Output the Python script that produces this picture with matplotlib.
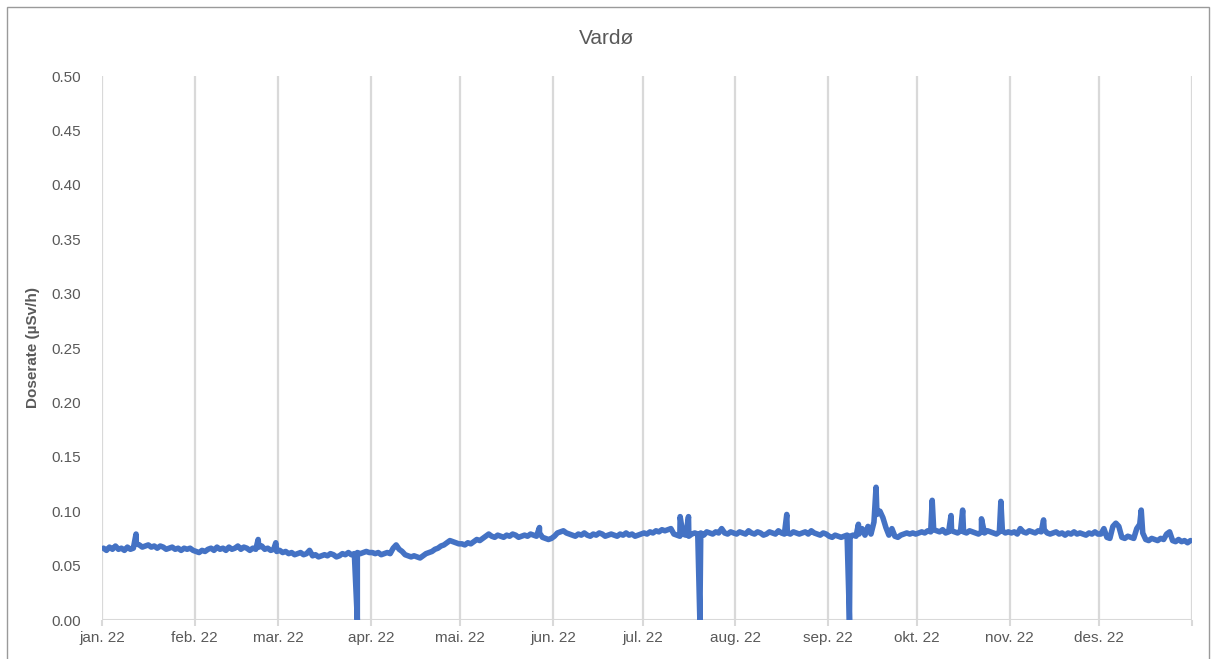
import numpy as np
import pandas as pd
import matplotlib
matplotlib.use("Agg")
import matplotlib.pyplot as plt
import matplotlib.dates as mdates
from matplotlib.ticker import FuncFormatter, FormatStrFormatter
from matplotlib.patches import Rectangle

plt.rcParams['font.family'] = ['Liberation Sans', 'DejaVu Sans']

title = "Vardø"
ylabel = "Doserate (µSv/h)"
month_labels = ["jan.", "feb.", "mar.", "apr.", "mai.", "jun.",
                "jul.", "aug.", "sep.", "okt.", "nov.", "des."]

# daily dose rate values (µSv/h)
jan = [0.066, 0.064, 0.067, 0.065, 0.068, 0.065, 0.066, 0.064, 0.067, 0.065, 0.066,
       0.070, 0.069, 0.067, 0.068, 0.069, 0.067, 0.068, 0.066, 0.068, 0.067, 0.065,
       0.066, 0.067, 0.065, 0.066, 0.064, 0.066, 0.065, 0.066, 0.064]
feb = [0.063, 0.062, 0.064, 0.063, 0.065, 0.066, 0.064, 0.067, 0.065, 0.066, 0.064,
       0.067, 0.065, 0.066, 0.068, 0.065, 0.067, 0.066, 0.064, 0.066, 0.065, 0.067,
       0.068, 0.065, 0.066, 0.064, 0.065, 0.063]
mar = [0.064, 0.062, 0.063, 0.061, 0.062, 0.060, 0.061, 0.062, 0.060, 0.061, 0.064,
       0.059, 0.060, 0.058, 0.059, 0.060, 0.059, 0.061, 0.060, 0.058, 0.059, 0.061,
       0.060, 0.062, 0.060, 0.061, 0.062, 0.061, 0.062, 0.063, 0.062]
apr = [0.062, 0.061, 0.062, 0.060, 0.061, 0.062, 0.061, 0.066, 0.069, 0.065, 0.063,
       0.060, 0.059, 0.058, 0.059, 0.058, 0.057, 0.059, 0.061, 0.062, 0.063, 0.065,
       0.066, 0.068, 0.069, 0.071, 0.073, 0.072, 0.071, 0.070]
may = [0.070, 0.069, 0.071, 0.070, 0.072, 0.074, 0.073, 0.075, 0.077, 0.079, 0.077,
       0.076, 0.078, 0.077, 0.076, 0.078, 0.077, 0.079, 0.078, 0.076, 0.077, 0.078,
       0.077, 0.079, 0.078, 0.077, 0.080, 0.076, 0.075, 0.074, 0.075]
jun = [0.077, 0.080, 0.081, 0.082, 0.080, 0.079, 0.078, 0.077, 0.079, 0.078, 0.080,
       0.078, 0.077, 0.079, 0.078, 0.080, 0.079, 0.077, 0.078, 0.079, 0.078, 0.077,
       0.079, 0.078, 0.080, 0.078, 0.079, 0.077, 0.078, 0.079]
jul = [0.080, 0.079, 0.081, 0.080, 0.082, 0.081, 0.083, 0.082, 0.083, 0.084, 0.079,
       0.078, 0.077, 0.079, 0.078, 0.077, 0.079, 0.080, 0.079, 0.080, 0.078, 0.081,
       0.080, 0.079, 0.081, 0.080, 0.084, 0.080, 0.079, 0.081, 0.080]
aug = [0.079, 0.081, 0.080, 0.079, 0.082, 0.080, 0.079, 0.081, 0.080, 0.078, 0.079,
       0.081, 0.080, 0.079, 0.082, 0.080, 0.079, 0.080, 0.079, 0.081, 0.080, 0.079,
       0.080, 0.081, 0.079, 0.082, 0.080, 0.079, 0.078, 0.080, 0.079]
sep = [0.077, 0.076, 0.078, 0.077, 0.076, 0.077, 0.078, 0.077, 0.078, 0.077, 0.079,
       0.084, 0.078, 0.086, 0.079, 0.090, 0.097, 0.100, 0.094, 0.085, 0.078, 0.084,
       0.077, 0.076, 0.078, 0.079, 0.080, 0.079, 0.080, 0.079]
okt = [0.080, 0.081, 0.080, 0.082, 0.081, 0.083, 0.082, 0.081, 0.083, 0.080, 0.081,
       0.082, 0.081, 0.080, 0.082, 0.081, 0.080, 0.082, 0.081, 0.080, 0.079, 0.081,
       0.080, 0.082, 0.081, 0.080, 0.079, 0.081, 0.082, 0.080, 0.081]
nov = [0.080, 0.081, 0.079, 0.084, 0.081, 0.080, 0.082, 0.081, 0.080, 0.082, 0.081,
       0.083, 0.080, 0.079, 0.080, 0.081, 0.079, 0.080, 0.078, 0.080, 0.079, 0.081,
       0.079, 0.080, 0.079, 0.078, 0.080, 0.079, 0.081, 0.079]
des = [0.079, 0.084, 0.076, 0.075, 0.086, 0.089, 0.086, 0.076, 0.075, 0.077, 0.076,
       0.075, 0.084, 0.088, 0.080, 0.074, 0.073, 0.075, 0.074, 0.073, 0.075, 0.074,
       0.079, 0.081, 0.073, 0.072, 0.074, 0.072, 0.073, 0.071, 0.073]

# short events (day of year, value): peaks and drop-outs
spike_days = [11.4, 52.3, 58.2, 85.5, 146.5, 193.6, 196.4, 200.2, 229.3, 250.3,
              253.3, 259.2, 278.0, 284.3, 288.2, 294.5, 301.0, 315.3, 348.0]
spike_vals = [0.079, 0.074, 0.071, 0.000, 0.085, 0.095, 0.095, 0.000, 0.097, 0.000,
              0.088, 0.122, 0.110, 0.096, 0.101, 0.093, 0.109, 0.092, 0.101]

daily = jan + feb + mar + apr + may + jun + jul + aug + sep + okt + nov + des
daily_days = np.arange(len(daily)) + 0.5
all_days = np.concatenate([daily_days, np.array(spike_days)])
all_vals = np.concatenate([np.array(daily), np.array(spike_vals)])
order = np.argsort(all_days)
start = pd.Timestamp("2022-01-01")
dates = start + pd.to_timedelta(all_days[order], unit="D")
vals = all_vals[order]

W, H = 1215, 659
fig = plt.figure(figsize=(W / 100, H / 100), dpi=100)
ax = fig.add_axes([102 / W, 1 - 620 / H, 1090 / W, 544 / H])

ax.plot(dates, vals, color="#4472C4", lw=4.0, solid_joinstyle="round",
        solid_capstyle="round", zorder=3)

ax.set_ylim(0, 0.5)
ax.set_xlim(start, pd.Timestamp("2023-01-01"))
ax.set_yticks(np.arange(0, 0.501, 0.05))
ax.yaxis.set_major_formatter(FormatStrFormatter("%.2f"))
ax.xaxis.set_major_locator(mdates.MonthLocator(bymonthday=1))


def fmt(v, pos):
    d = mdates.num2date(v)
    if d.year != 2022:
        return ""
    return f"{month_labels[d.month - 1]} {d.year % 100}"


ax.xaxis.set_major_formatter(FuncFormatter(fmt))

for s in ax.spines.values():
    s.set_visible(False)
ax.axhline(0, color="#D9D9D9", lw=1.5, zorder=2)
ax.grid(axis="x", color="#D9D9D9", lw=1.6, zorder=1)
ax.set_axisbelow(True)
ax.tick_params(axis="x", length=4, width=1.5, color="#D9D9D9", pad=4,
               labelsize=11, labelcolor="#595959")
ax.tick_params(axis="y", length=0, pad=15, labelsize=11, labelcolor="#595959")

fig.text(607 / W, 1 - 38 / H, title, ha="center", va="center",
         fontsize=15, color="#595959")
fig.text(33 / W, 1 - 348 / H, ylabel, rotation=90, ha="center", va="center",
         fontsize=11, fontweight="bold", color="#595959")

fig.patches.append(Rectangle((6.5 / W, -0.05), (1209 - 6.5) / W, 1 - 6.5 / H + 0.05,
                             transform=fig.transFigure, fill=False,
                             edgecolor="#9A9A9A", lw=1.0))

fig.savefig("out.png", dpi=100)
